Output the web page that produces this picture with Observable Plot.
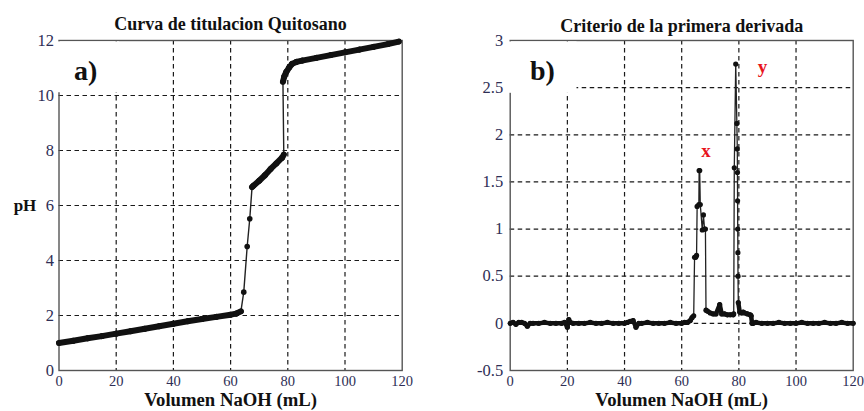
<!DOCTYPE html>
<html><head><meta charset="utf-8">
<script src="https://cdn.jsdelivr.net/npm/d3@7"></script>
<script src="https://cdn.jsdelivr.net/npm/@observablehq/plot@0.6"></script>
<style>
html,body{margin:0;padding:0;background:#fff;}
#wrap{display:flex;width:864px;height:411px;overflow:hidden;}
#wrap svg{display:block;}
#wrap svg text{font-family:'Liberation Serif','Times New Roman',serif;}
</style></head><body><div id="wrap"></div>
<script>
// ---- Panel a) titration curve (read from picture) ----
const volA = [0,5,10,15,20,25,30,35,40,45,50,55,60,62,63.6,64.6,65.8,66.7,67.5,68,70,72,74,76,78,78.6,78.3,78.8,79.5,80.5,81.5,83,85,90,95,100,105,110,115,118.8];
const phA  = [1.00,1.08,1.17,1.25,1.34,1.43,1.52,1.61,1.70,1.79,1.87,1.95,2.03,2.07,2.15,2.85,4.51,5.52,6.67,6.72,6.90,7.10,7.33,7.53,7.74,7.85,10.50,10.70,10.86,11.02,11.15,11.22,11.27,11.37,11.47,11.57,11.67,11.77,11.87,11.96];

// ---- Panel b) first derivative (read from picture) ----
const volB = [0,1,2,3,4,5,6,7,8,10,12,14,16,18,19,20,20.5,21,22,24,26,28,30,32,34,36,38,40,41,42,43,44,45,46,48,50,52,54,56,58,60,61,62,63,63.6,64.2,64.5,64.9,65.2,65.4,66.0,66.1,66.3,66.5,67.2,67.6,68.0,68.3,68.5,69,70,71,72,73.3,74,75,76,77,78,78.2,78.4,78.9,79.3,79.45,79.5,79.55,79.6,79.65,79.7,79.8,80.3,81,81.5,82,83,84,84.3,84.6,85,86,88,90,92,94,96,98,100,102,104,106,108,110,112,114,116,118,120];
const derB = [0.00,0.01,-0.01,0.01,0.01,0.00,-0.03,0.00,0.00,0.00,0.01,0.00,0.00,0.00,0.01,-0.04,0.04,0.01,0.00,0.00,0.00,0.01,0.00,0.00,0.01,0.00,0.00,0.00,0.01,0.02,0.03,-0.04,0.00,0.00,0.01,0.00,0.00,0.00,0.01,0.00,0.00,0.01,0.01,0.03,0.06,0.08,0.70,0.70,0.72,1.24,1.26,1.62,1.62,1.26,0.99,1.15,1.00,1.00,0.14,0.13,0.11,0.10,0.10,0.20,0.10,0.10,0.09,0.09,0.09,0.10,1.65,2.75,2.12,1.85,1.60,1.30,1.00,0.75,0.50,0.22,0.12,0.11,0.12,0.11,0.10,0.09,0.08,0.00,0.00,0.01,0.00,0.00,0.00,0.01,0.00,0.00,0.00,0.01,0.00,0.00,0.00,0.01,0.00,0.00,0.01,0.00,0.00];

const xTicks  = [0,20,40,60,80,100,120];
const yTicksA = [0,2,4,6,8,10,12];
const yTicksB = [-0.5,0,0.5,1,1.5,2,2.5,3];
const titleA = "Curva de titulacion Quitosano";
const titleB = "Criterio de la primera derivada";
const xLabel = "Volumen NaOH (mL)";
const yLabelA = "pH";
const panelTags = ["a)", "b)"];
const peakTags = ["x", "y"];

const FONT = "'Liberation Serif', 'Times New Roman', serif";
const TICKCOL = "#2e2e55";

const ptsA = volA.map((v,i)=>({v, y: phA[i]}));
const ptsB = volB.map((v,i)=>({v, y: derB[i]}));

function pairs(pts, keep){
  const out=[];
  for(let i=1;i<pts.length;i++){ if(keep(pts[i-1],pts[i])) out.push({a:pts[i-1], b:pts[i]}); }
  return out;
}
// thick where the curve is dense (small pixel slope)
const thickA = pairs(ptsA,(p,q)=>{
  const dx=Math.abs(q.v-p.v)/120*343, dy=Math.abs(q.y-p.y)/12*330;
  return dx>0 && dy/dx<5;
});
const thickB = pairs(ptsB,(p,q)=>Math.abs(p.y)<0.3 && Math.abs(q.y)<0.3);

function common(extra){
  return Object.assign({
    width:432, height:411, marginTop:40, marginBottom:41,
    style:{fontFamily:FONT, background:"white", color:"#111"},
  }, extra);
}
const grid = {stroke:"#1a1a1a", strokeOpacity:1, strokeDasharray:"4.5,3.5", strokeWidth:1.2};
const axisFont = {fontFamily:FONT, fill:TICKCOL, label:null, tickSize:0};
// white label boxes behind the panel tags (as in the original)
const boxA = [{x1:0, x2:21.7, y1:10.1, y2:11.95}];
const boxB = [{x1:0, x2:23.9, y1:2.44, y2:2.985}];

const plotA = Plot.plot(common({
  marginLeft:58.5, marginRight:30.3,
  x:{domain:[0,120]},
  y:{domain:[0,12]},
  marks:[
    Plot.gridX([20,40,60,80,100], grid),
    Plot.gridY([2,4,6,8,10], grid),
    Plot.frame({stroke:"#555", strokeWidth:1.4}),
    Plot.rect(boxA,{x1:"x1", x2:"x2", y1:"y1", y2:"y2", fill:"white", dx:-1.5}),
    Plot.axisX(xTicks,{...axisFont, tickPadding:5, fontSize:14.5}),
    Plot.axisY(yTicksA,{...axisFont, tickPadding:5, fontSize:16.5}),
    Plot.line(ptsA,{x:"v", y:"y", stroke:"#222", strokeWidth:1.4}),
    Plot.link(thickA,{x1:d=>d.a.v, y1:d=>d.a.y, x2:d=>d.b.v, y2:d=>d.b.y, stroke:"#111", strokeWidth:6, strokeLinecap:"round"}),
    Plot.dot(ptsA,{x:"v", y:"y", r:2.8, fill:"#111", stroke:null}),
    Plot.text([titleA],{text:d=>d, frameAnchor:"top", lineAnchor:"bottom", dy:-11, fontWeight:"bold", fontSize:18, fontFamily:FONT, fill:"#111"}),
    Plot.text([xLabel],{text:d=>d, frameAnchor:"bottom", lineAnchor:"middle", dy:30, fontWeight:"bold", fontSize:18.7, fontFamily:FONT, fill:"#111"}),
    Plot.text([yLabelA],{text:d=>d, frameAnchor:"left", textAnchor:"middle", dx:-34, fontWeight:"bold", fontSize:17, fontFamily:FONT, fill:"#111"}),
    Plot.text([panelTags[0]],{text:d=>d, x:9.3, y:10.9, fontWeight:"bold", fontSize:28, fontFamily:FONT, fill:"#111"})
  ]
}));

const plotB = Plot.plot(common({
  marginLeft:77.7, marginRight:11.3,
  x:{domain:[0,120]},
  y:{domain:[-0.5,3]},
  marks:[
    Plot.gridX([20,40,60,80,100], grid),
    Plot.gridY([0,0.5,1,1.5,2,2.5], grid),
    Plot.frame({stroke:"#555", strokeWidth:1.4}),
    Plot.rect(boxB,{x1:"x1", x2:"x2", y1:"y1", y2:"y2", fill:"white", dx:-1.5}),
    Plot.axisX(xTicks,{...axisFont, tickPadding:5, fontSize:14.5}),
    Plot.axisY(yTicksB,{...axisFont, tickPadding:7, fontSize:16.5, tickFormat:d=>String(d)}),
    Plot.line(ptsB,{x:"v", y:"y", stroke:"#222", strokeWidth:1.3}),
    Plot.link(thickB,{x1:d=>d.a.v, y1:d=>d.a.y, x2:d=>d.b.v, y2:d=>d.b.y, stroke:"#111", strokeWidth:4.5, strokeLinecap:"round"}),
    Plot.dot(ptsB,{x:"v", y:"y", r:2.6, fill:"#111", stroke:null}),
    Plot.text([titleB],{text:d=>d, frameAnchor:"top", lineAnchor:"bottom", dy:-9, fontWeight:"bold", fontSize:18, fontFamily:FONT, fill:"#111"}),
    Plot.text([xLabel],{text:d=>d, frameAnchor:"bottom", lineAnchor:"middle", dy:30, fontWeight:"bold", fontSize:18.7, fontFamily:FONT, fill:"#111"}),
    Plot.text([panelTags[1]],{text:d=>d, x:11.3, y:2.68, fontWeight:"bold", fontSize:28, fontFamily:FONT, fill:"#111"}),
    Plot.text([{t:peakTags[0], v:68.5, y:1.83},{t:peakTags[1], v:88.3, y:2.72}],{text:"t", x:"v", y:"y", fontWeight:"bold", fontSize:19, fontFamily:FONT, fill:"#e8141c"})
  ]
}));

document.getElementById("wrap").append(plotA, plotB);
</script>
</body></html>
